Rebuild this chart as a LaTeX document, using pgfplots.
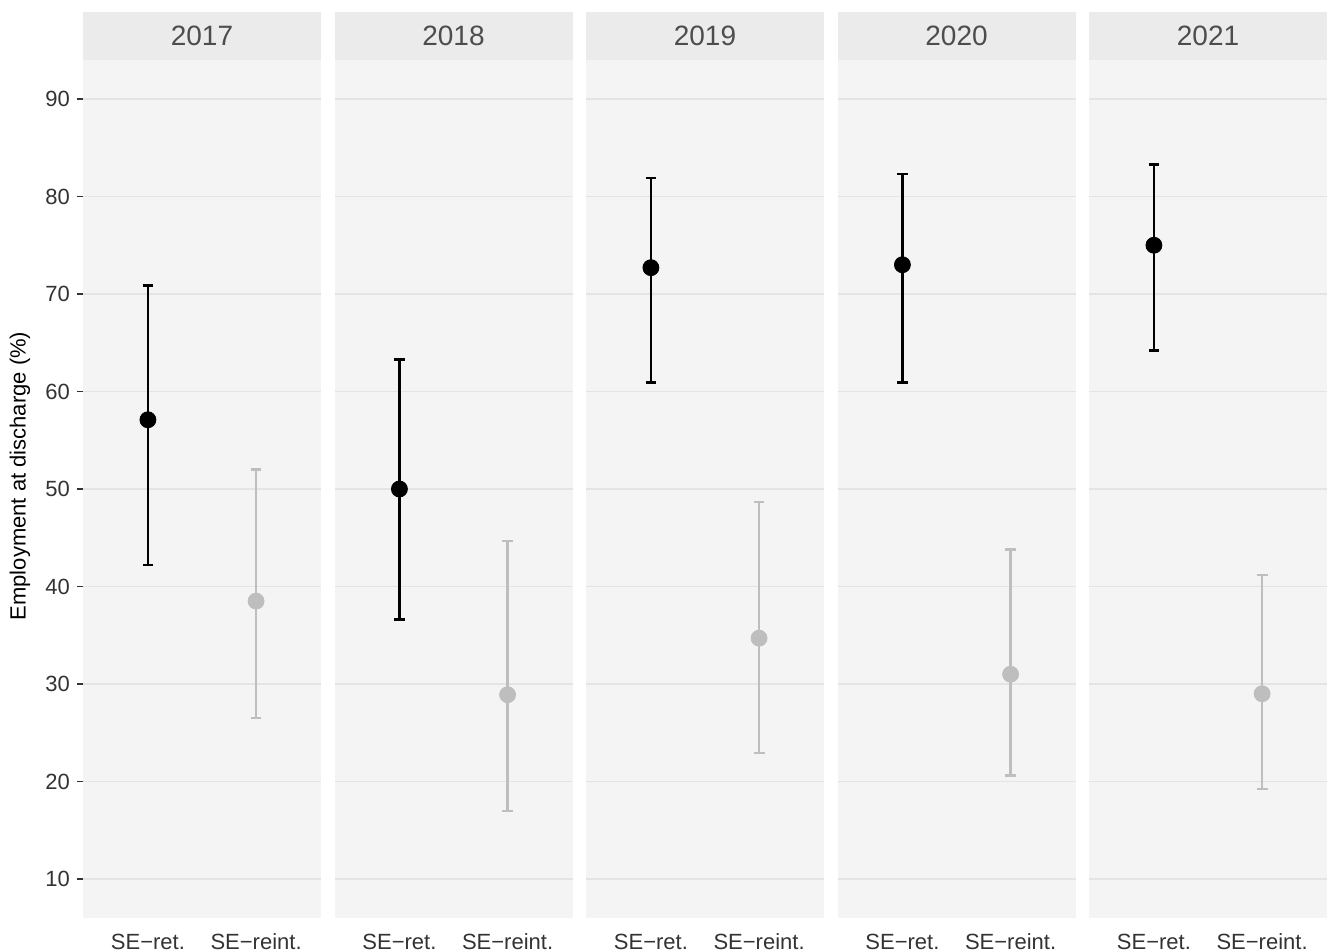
\documentclass[border=0pt]{standalone}
\usepackage{fontspec}
\setmainfont{Liberation Sans}
\usepackage{pgfplots}
\pgfplotsset{compat=1.18}
\usepackage{pgfplotstable}

\definecolor{panelbg}{HTML}{F4F4F4}
\definecolor{gridc}{HTML}{E4E4E4}
\definecolor{stripbg}{HTML}{EBEBEB}
\definecolor{striptext}{HTML}{4D4D4D}
\definecolor{ticktext}{HTML}{333333}
\definecolor{reintc}{HTML}{BEBEBE}

% x: 1 = SE-ret., 2 = SE-reint.
\pgfplotstableread{
x y lo hi
1 57.1 42.2 70.9
2 38.5 26.5 52.0
}\dataA
\pgfplotstableread{
x y lo hi
1 50.0 36.6 63.3
2 28.9 17.0 44.7
}\dataB
\pgfplotstableread{
x y lo hi
1 72.7 60.9 81.9
2 34.7 22.9 48.7
}\dataC
\pgfplotstableread{
x y lo hi
1 73.0 60.9 82.3
2 31.0 20.6 43.8
}\dataD
\pgfplotstableread{
x y lo hi
1 75.0 64.2 83.3
2 29.0 19.2 41.2
}\dataE

\pgfplotsset{
  facet/.style={
    scale only axis, width=119pt, height=429pt,
    anchor=south west, clip=false,
    xmin=0.4, xmax=2.6, ymin=6, ymax=94,
    xtick={1,2}, xticklabels={SE−ret., SE−reint.},
    ytick={10,20,...,90},
    ytick pos=left, xtick pos=bottom,
    ymajorgrids, grid style={gridc, line width=0.6pt},
    axis background/.style={fill=panelbg},
    axis line style={draw=none},
    tick align=outside, major tick length=3pt,
    x tick style={draw=none},
    tick label style={font=\fontsize{11}{13}\selectfont, text=ticktext},
    /pgf/number format/assume math mode=true,
    xticklabel style={yshift=-1pt, text height=8pt, text depth=0pt},
  },
  retplot/.style={only marks, mark=*, mark size=4pt, black,
    error bars/.cd, y dir=both, y explicit,
    error bar style={line width=1.3pt, black},
    error mark options={black, rotate=90, mark size=2.7pt, line width=1.3pt}},
  reintplot/.style={only marks, mark=*, mark size=4pt, reintc,
    error bars/.cd, y dir=both, y explicit,
    error bar style={line width=1.15pt, reintc},
    error mark options={reintc, rotate=90, mark size=2.7pt, line width=1.15pt}},
}

\newcommand{\panel}[4]{%
  \begin{axis}[facet, at={(#1,17pt)}, #4]
    \addplot[retplot] table[x=x, y=y,
      y error plus expr=\thisrow{hi}-\thisrow{y},
      y error minus expr=\thisrow{y}-\thisrow{lo},
      skip coords between index={1}{2}] {#3};
    \addplot[reintplot] table[x=x, y=y,
      y error plus expr=\thisrow{hi}-\thisrow{y},
      y error minus expr=\thisrow{y}-\thisrow{lo},
      skip coords between index={0}{1}] {#3};
    \fill[stripbg] (rel axis cs:0,1) rectangle ([yshift=24pt]rel axis cs:1,1);
    \node[font=\fontsize{14}{16}\selectfont, text=striptext]
      at ([yshift=12pt]rel axis cs:0.5,1) {#2};
  \end{axis}}

\begin{document}
\begin{tikzpicture}
  \panel{41.5pt}{2017}{\dataA}{ytick style={draw=ticktext, line width=0.6pt}}
  \panel{167.25pt}{2018}{\dataB}{yticklabels={}, ytick style={draw=none}}
  \panel{293pt}{2019}{\dataC}{yticklabels={}, ytick style={draw=none}}
  \panel{418.75pt}{2020}{\dataD}{yticklabels={}, ytick style={draw=none}}
  \panel{544.5pt}{2021}{\dataE}{yticklabels={}, ytick style={draw=none}}
  \node[rotate=90, font=\fontsize{11}{13}\selectfont] at (10pt,238pt)
    {Employment at discharge (\%)};
  \pgfresetboundingbox
  \path[use as bounding box] (0,0) rectangle (664pt,476pt);
\end{tikzpicture}
\end{document}
